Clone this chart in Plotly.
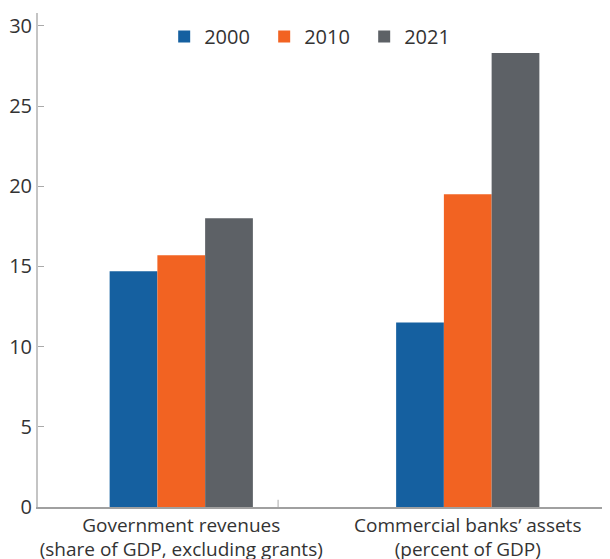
import plotly.graph_objects as go

categories = ["Government revenues<br>(share of GDP, excluding grants)",
              "Commercial banks\u2019 assets<br>(percent of GDP)"]
years = ["2000", "2010", "2021"]
values_2000 = [14.7, 11.5]
values_2010 = [15.7, 19.5]
values_2021 = [18.0, 28.3]
colors = ["#1560a0", "#f26322", "#5d6166"]
y_ticks = [0, 5, 10, 15, 20, 25, 30]

fig = go.Figure()
for name, vals, c in zip(years, [values_2000, values_2010, values_2021], colors):
    fig.add_trace(go.Bar(x=categories, y=vals, name=name, marker_color=c,
                         marker_line_width=0))

font = dict(family="Open Sans, sans-serif", size=19, color="#333333")
fig.update_layout(
    width=610, height=559,
    margin=dict(l=30, r=7, t=5, b=60),
    paper_bgcolor="white", plot_bgcolor="white",
    barmode="group", bargap=0.5, bargroupgap=0,
    font=font,
    showlegend=True,
    legend=dict(orientation="h", x=0.482, xanchor="center", y=0.992, yanchor="top",
                entrywidth=55, font=dict(size=20, color="#333333"),
                bgcolor="rgba(0,0,0,0)"),
    xaxis=dict(showline=True, linecolor="#a0a0a0", linewidth=1.5, automargin=False,
               ticks="", showgrid=False, tickfont=dict(size=19, color="#333333")),
    yaxis=dict(range=[0, 30.8], tickvals=y_ticks, showgrid=False, zeroline=False,
               automargin=False,
               showline=True, linecolor="#c4c4c4", linewidth=2,
               ticks="inside", ticklen=6, tickcolor="#aaaaaa", tickwidth=1,
               tickfont=dict(size=20, color="#333333")),
    yaxis2=dict(overlaying="y", matches="y", side="right", tickvals=y_ticks,
                automargin=False,
                showticklabels=False, showgrid=False, zeroline=False, showline=False,
                ticks="inside", ticklen=6, tickcolor="#aaaaaa", tickwidth=1),
)
fig.add_shape(type="line", xref="paper", yref="y", x0=0.419, x1=0.419, y0=0, y1=0.45,
              line=dict(color="#aaaaaa", width=1))
fig.write_html("out.html")
